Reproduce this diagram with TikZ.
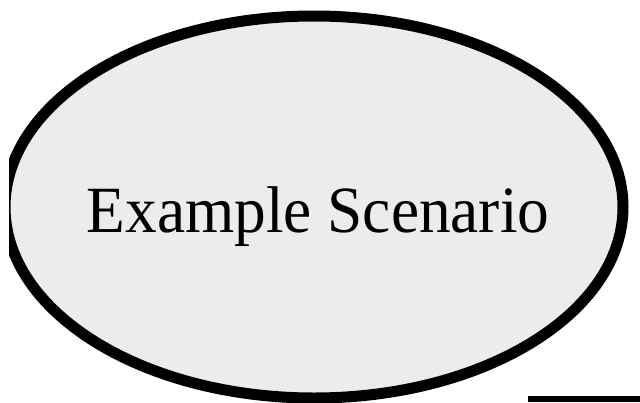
\documentclass[tikz,border=0pt]{standalone}
\usepackage{fontspec}
\setmainfont{Liberation Serif}[FakeStretch=0.96]
\definecolor{scengray}{HTML}{ECECEC}

\begin{document}
\begin{tikzpicture}[
    x=1pt, y=-1pt,
    scenario/.style={draw=black, line width=11pt, fill=scengray},
    scentext/.style={inner sep=0pt, anchor=base, font=\fontsize{66}{72}\selectfont},
    barline/.style={fill=black}
  ]
    \useasboundingbox (0,0) rectangle (640,402);
    \clip (9,0) rectangle (640,402);
    \draw[scenario] (314,207) ellipse[x radius=309, y radius=191];
    \node[scentext] (scen) at (318,232) {Example Scenario};
    \fill[barline] (528,396) rectangle (640,402);
  \end{tikzpicture}
\end{document}
